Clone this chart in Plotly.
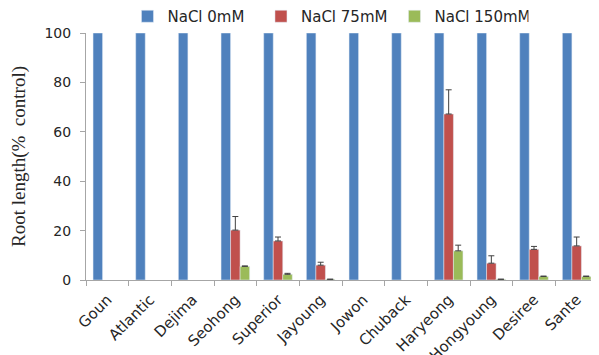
import plotly.graph_objects as go

cultivars = ["Goun", "Atlantic", "Dejima", "Seohong", "Superior", "Jayoung", "Jowon",
             "Chuback", "Haryeong", "Hongyoung", "Desiree", "Sante"]
nacl_0 = [100] * 12
nacl_75 = [None, None, None, 20.2, 15.8, 6.0, None, None, 67.2, 6.8, 12.4, 13.8]
nacl_75_err = [0, 0, 0, 5.5, 1.6, 1.2, 0, 0, 9.8, 3.0, 1.2, 3.6]
nacl_150 = [None, None, None, 5.5, 2.3, 0.3, None, None, 11.8, 0.3, 1.4, 1.4]
nacl_150_err = [0, 0, 0, 0.2, 0.4, 0, 0, 0, 2.3, 0, 0.2, 0.2]

err_style = dict(type="data", symmetric=False, color="#404040", thickness=1, width=3)

fig = go.Figure()
fig.add_trace(go.Bar(x=cultivars, y=nacl_0, name="NaCl 0mM", marker_color="#4F81BD"))
fig.add_trace(go.Bar(x=cultivars, y=nacl_75, name="NaCl 75mM", marker_color="#C0504D",
                     error_y=dict(array=nacl_75_err, arrayminus=[0] * 12, **err_style)))
fig.add_trace(go.Bar(x=cultivars, y=nacl_150, name="NaCl 150mM", marker_color="#9BBB59",
                     error_y=dict(array=nacl_150_err, arrayminus=[0] * 12, **err_style)))

# the page body adds an 8px offset, so the figure is sized 8px smaller
fig.update_layout(
    width=591, height=347,
    margin=dict(l=78, r=1, t=25, b=75, autoexpand=False),
    plot_bgcolor="white", paper_bgcolor="white",
    barmode="group", bargap=0.33, bargroupgap=0,
    font=dict(family="DejaVu Sans, sans-serif", size=13, color="#262626"),
    legend=dict(orientation="h", x=0.081, xanchor="left", y=1.0, yanchor="bottom",
                font=dict(size=15), itemwidth=30, traceorder="normal",
                entrywidth=88.5, entrywidthmode="pixels"),
    showlegend=True,
)
fig.update_xaxes(
    showline=True, linecolor="#A6A6A6", linewidth=1,
    ticks="outside", tickson="boundaries", ticklen=5, tickcolor="#A6A6A6",
    tickangle=-45, tickfont=dict(size=15), showgrid=False, ticklabelstandoff=4,
)
fig.update_yaxes(
    range=[0, 100], tickvals=[0, 20, 40, 60, 80, 100],
    showline=True, linecolor="#A6A6A6", linewidth=1,
    ticks="outside", ticklen=5, tickcolor="#A6A6A6", showgrid=False, zeroline=False,
    tickfont=dict(size=14), ticklabelstandoff=6,
    title=dict(text="Root length(%  control)", font=dict(family="Liberation Serif, serif", size=19),
               standoff=14),
)

fig.write_html("out.html")
